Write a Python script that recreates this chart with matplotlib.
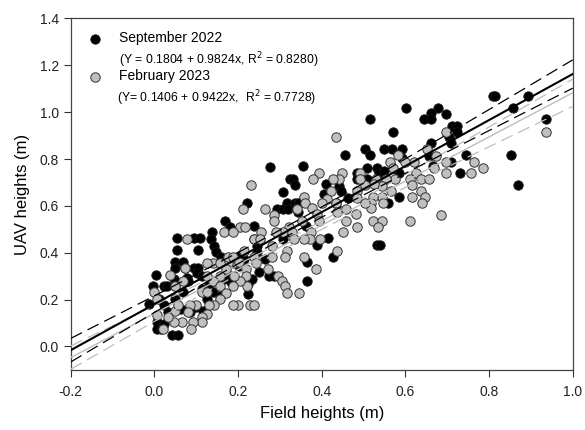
import numpy as np
import matplotlib.pyplot as plt

plt.rcParams['font.family'] = ['Liberation Sans', 'DejaVu Sans']

# September 2022 (field height, UAV height)
sep_x = [0.81, 0.815, 0.892, 0.857, 0.935, 0.602, 0.678, 0.66, 0.644, 0.66, 0.698, 0.516,
         0.711, 0.724, 0.724, 0.57, 0.704, 0.709, 0.662, 0.455, 0.503, 0.516, 0.549, 0.568,
         0.593, 0.745, 0.852, 0.87, 0.73, 0.709, 0.657, 0.666, 0.591, 0.584, 0.584, 0.558,
         0.533, 0.536, 0.509, 0.485, 0.485, 0.509, 0.549, 0.442, 0.445, 0.411, 0.406, 0.463,
         0.433, 0.531, 0.54, 0.415, 0.389, 0.428, 0.364, 0.364, 0.355, 0.276, 0.324, 0.332,
         0.335, 0.308, 0.317, 0.335, 0.344, 0.292, 0.308, 0.32, 0.345, 0.344, 0.363, 0.308,
         0.321, 0.222, 0.237, 0.237, 0.246, 0.246, 0.169, 0.18, 0.137, 0.135, 0.095, 0.11,
         0.055, 0.055, 0.104, 0.143, 0.147, 0.16, 0.05, 0.068, 0.072, 0.05, 0.095, 0.104,
         0.102, 0.077, 0.046, 0.024, 0.029, 0.004, -0.003, -0.012, 0.01, 0.024, 0.05, 0.068,
         0.05, 0.081, 0.113, 0.113, 0.13, 0.139, 0.157, 0.18, 0.202, 0.215, 0.224, 0.224,
         0.233, 0.25, 0.273, 0.286, 0.264, 0.202, 0.006, 0.006, 0.015, 0.042, 0.057, 0.024,
         0.086, 0.099, 0.117, 0.064, 0.032, 0.126, 0.166, 0.183]
sep_y = [1.07, 1.07, 1.068, 1.018, 0.969, 1.018, 1.018, 0.997, 0.969, 0.969, 0.993, 0.969,
         0.943, 0.943, 0.915, 0.916, 0.895, 0.867, 0.867, 0.817, 0.841, 0.817, 0.841, 0.841,
         0.841, 0.816, 0.816, 0.688, 0.739, 0.789, 0.813, 0.77, 0.806, 0.742, 0.638, 0.611,
         0.763, 0.742, 0.763, 0.742, 0.713, 0.713, 0.749, 0.685, 0.664, 0.692, 0.65, 0.635,
         0.614, 0.433, 0.433, 0.461, 0.433, 0.38, 0.359, 0.281, 0.77, 0.766, 0.713, 0.713,
         0.688, 0.66, 0.614, 0.611, 0.614, 0.586, 0.586, 0.586, 0.611, 0.572, 0.515, 0.458,
         0.487, 0.614, 0.515, 0.458, 0.43, 0.401, 0.536, 0.511, 0.487, 0.458, 0.461, 0.461,
         0.461, 0.413, 0.413, 0.43, 0.401, 0.38, 0.359, 0.359, 0.333, 0.333, 0.333, 0.333,
         0.313, 0.291, 0.288, 0.257, 0.257, 0.306, 0.257, 0.182, 0.203, 0.177, 0.203, 0.231,
         0.257, 0.281, 0.302, 0.245, 0.26, 0.231, 0.217, 0.302, 0.345, 0.373, 0.267, 0.224,
         0.288, 0.316, 0.302, 0.302, 0.373, 0.387, 0.104, 0.075, 0.075, 0.05, 0.05, 0.096,
         0.146, 0.167, 0.153, 0.16, 0.146, 0.203, 0.288, 0.274]

# February 2023 (field height, UAV height)
feb_x = [0.935, 0.435, 0.698, 0.651, 0.583, 0.562, 0.62, 0.598, 0.696, 0.674, 0.764, 0.786,
         0.758, 0.698, 0.669, 0.571, 0.626, 0.61, 0.575, 0.553, 0.529, 0.544, 0.525, 0.503,
         0.491, 0.491, 0.638, 0.656, 0.638, 0.615, 0.647, 0.615, 0.64, 0.61, 0.686, 0.565,
         0.544, 0.547, 0.522, 0.517, 0.517, 0.503, 0.485, 0.485, 0.482, 0.485, 0.522, 0.544,
         0.535, 0.449, 0.442, 0.428, 0.422, 0.413, 0.4, 0.433, 0.437, 0.459, 0.459, 0.45,
         0.437, 0.393, 0.38, 0.357, 0.36, 0.377, 0.388, 0.393, 0.375, 0.395, 0.372, 0.358,
         0.352, 0.34, 0.321, 0.308, 0.33, 0.333, 0.317, 0.313, 0.357, 0.387, 0.346, 0.295,
         0.304, 0.313, 0.317, 0.286, 0.286, 0.29, 0.281, 0.281, 0.271, 0.264, 0.23, 0.212,
         0.205, 0.216, 0.237, 0.255, 0.253, 0.215, 0.237, 0.242, 0.22, 0.22, 0.222, 0.205,
         0.228, 0.237, 0.199, 0.188, 0.188, 0.19, 0.19, 0.177, 0.176, 0.188, 0.202, 0.166,
         0.188, 0.139, 0.126, 0.157, 0.17, 0.157, 0.141, 0.157, 0.17, 0.157, 0.143, 0.13,
         0.126, 0.113, 0.113, 0.093, 0.099, 0.086, 0.081, 0.088, 0.066, 0.046, 0.05, 0.057,
         0.068, 0.037, 0.05, 0.077, 0.072, 0.126, -0.001, 0.006, 0.006, 0.021, 0.032, 0.113,
         0.126]
feb_y = [0.916, 0.894, 0.916, 0.841, 0.816, 0.789, 0.789, 0.789, 0.789, 0.813, 0.789, 0.763,
         0.739, 0.739, 0.763, 0.763, 0.739, 0.713, 0.713, 0.713, 0.713, 0.685, 0.692, 0.689,
         0.739, 0.713, 0.713, 0.713, 0.664, 0.688, 0.638, 0.638, 0.614, 0.536, 0.56, 0.664,
         0.638, 0.614, 0.638, 0.614, 0.589, 0.614, 0.664, 0.635, 0.565, 0.508, 0.536, 0.536,
         0.508, 0.742, 0.713, 0.713, 0.664, 0.628, 0.614, 0.614, 0.572, 0.586, 0.536, 0.487,
         0.409, 0.742, 0.713, 0.638, 0.614, 0.589, 0.565, 0.536, 0.487, 0.458, 0.458, 0.458,
         0.536, 0.586, 0.508, 0.487, 0.487, 0.458, 0.409, 0.38, 0.38, 0.33, 0.228, 0.302,
         0.281, 0.257, 0.228, 0.56, 0.536, 0.487, 0.43, 0.38, 0.33, 0.586, 0.689, 0.586,
         0.511, 0.511, 0.458, 0.487, 0.458, 0.409, 0.38, 0.355, 0.33, 0.302, 0.257, 0.281,
         0.177, 0.177, 0.177, 0.177, 0.257, 0.302, 0.355, 0.355, 0.38, 0.38, 0.359, 0.487,
         0.487, 0.355, 0.355, 0.355, 0.33, 0.302, 0.281, 0.257, 0.228, 0.203, 0.177, 0.177,
         0.139, 0.125, 0.104, 0.104, 0.177, 0.177, 0.146, 0.075, 0.104, 0.104, 0.153, 0.177,
         0.281, 0.305, 0.257, 0.458, 0.333, 0.302, 0.231, 0.203, 0.132, 0.075, 0.125, 0.231,
         0.231]

# fitted equations from the legend
sep_fit = (0.1804, 0.9824)
feb_fit = (0.1406, 0.9422)


def conf_band(x, y, fit, xx):
    # 95% confidence band of the mean around the given line
    x = np.asarray(x)
    y = np.asarray(y)
    n = len(x)
    res = y - (fit[0] + fit[1] * x)
    s = np.sqrt(np.sum(res ** 2) / (n - 2))
    sxx = np.sum((x - x.mean()) ** 2)
    return 1.97 * s * np.sqrt(1.0 / n + (xx - x.mean()) ** 2 / sxx)


fig = plt.figure(figsize=(5.85, 4.3), dpi=100)
ax = fig.add_axes([0.121, 0.14, 0.858, 0.817])

msize = 46
ax.scatter(sep_x, sep_y, s=msize, c='black', edgecolors='#1a1a1a', linewidths=0.6, zorder=2)
ax.scatter(feb_x, feb_y, s=msize, c='#c0c0c0', edgecolors='#333333', linewidths=0.7, zorder=3)

xx = np.linspace(-0.2, 1.0, 100)
for xs, ys, fit, col, lw in [(feb_x, feb_y, feb_fit, '#bdbdbd', 1.0),
                             (sep_x, sep_y, sep_fit, 'black', 1.5)]:
    yy = fit[0] + fit[1] * xx
    hw = conf_band(xs, ys, fit, xx)
    ax.plot(xx, yy, color=col, lw=lw, zorder=4)
    ax.plot(xx, yy + hw, color=col, lw=0.9, ls=(0, (10, 5)), zorder=4)
    ax.plot(xx, yy - hw, color=col, lw=0.9, ls=(0, (10, 5)), zorder=4)

ax.set_xlim(-0.2, 1.0)
ax.set_ylim(-0.1, 1.4)
ax.set_xticks([-0.2, 0.0, 0.2, 0.4, 0.6, 0.8, 1.0])
ax.set_yticks([0.0, 0.2, 0.4, 0.6, 0.8, 1.0, 1.2, 1.4])
ax.xaxis.set_major_formatter(plt.FormatStrFormatter('%.1f'))
ax.yaxis.set_major_formatter(plt.FormatStrFormatter('%.1f'))
ax.tick_params(direction='out', length=5, width=0.8, labelsize=10, color='#333333',
               labelcolor='#222222')
ax.tick_params(axis='x', pad=6)
for sp in ax.spines.values():
    sp.set_color('#444444')
    sp.set_linewidth(0.9)

ax.set_xlabel('Field heights (m)', fontsize=12, labelpad=5)
ax.set_ylabel('UAV heights (m)', fontsize=12, labelpad=7)

# legend drawn by hand
ax.scatter([0.048], [0.942], s=msize, c='black', edgecolors='#1a1a1a', linewidths=0.6,
           transform=ax.transAxes, clip_on=False, zorder=5)
ax.scatter([0.048], [0.834], s=msize, c='#c0c0c0', edgecolors='#333333', linewidths=0.7,
           transform=ax.transAxes, clip_on=False, zorder=5)
ax.text(0.096, 0.944, 'September 2022', transform=ax.transAxes, fontsize=10, va='center')
ax.text(0.096, 0.882, '(Y = 0.1804 + 0.9824x, R$^2$ = 0.8280)', transform=ax.transAxes,
        fontsize=8.8, va='center')
ax.text(0.096, 0.836, 'February 2023', transform=ax.transAxes, fontsize=10, va='center')
ax.text(0.093, 0.772, '(Y= 0.1406 + 0.9422x,  R$^2$ = 0.7728)', transform=ax.transAxes,
        fontsize=8.8, va='center')

fig.savefig('out.png', dpi=100)
